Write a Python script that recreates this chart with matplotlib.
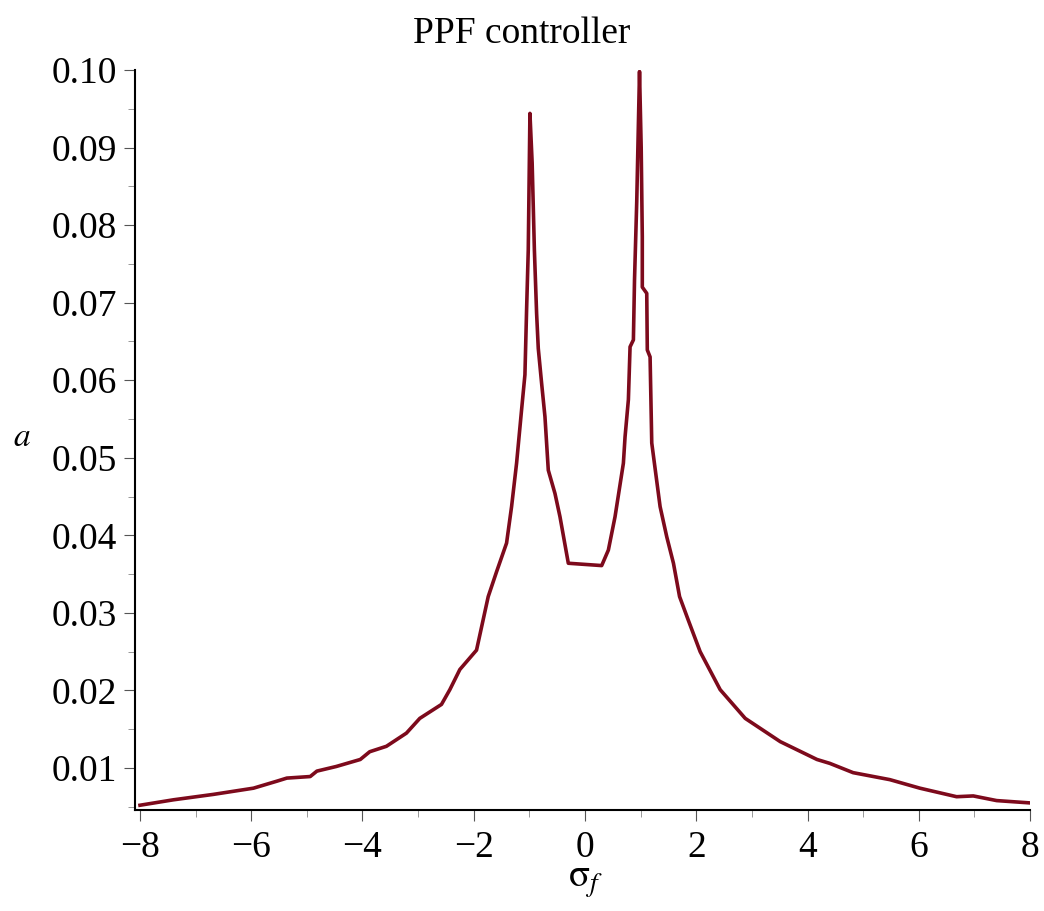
import matplotlib
matplotlib.use('Agg')
import matplotlib.pyplot as plt
from matplotlib.ticker import MultipleLocator

# values
sigma_f = [-8.0, -7.40, -6.68, -5.96, -5.54, -5.36, -4.94, -4.82, -4.47, -4.04,
           -3.87, -3.57, -3.21, -2.97, -2.58, -2.43, -2.25, -1.95, -1.74, -1.59,
           -1.41, -1.32, -1.23, -1.14, -1.08, -1.05, -1.02, -0.99, -0.95, -0.91,
           -0.87, -0.84, -0.78, -0.72, -0.66, -0.54, -0.45, -0.30, 0.30, 0.42,
           0.54, 0.69, 0.72, 0.78, 0.81, 0.87, 0.89, 0.93, 0.98, 1.01,
           1.03, 1.03, 1.11, 1.12, 1.17, 1.20, 1.35, 1.47, 1.59, 1.70,
           1.86, 2.07, 2.43, 2.88, 3.51, 4.17, 4.40, 4.82, 5.48, 6.02,
           6.68, 6.98, 7.40, 8.0]
amp = [0.0052, 0.0059, 0.0066, 0.0074, 0.0083, 0.0087, 0.0089, 0.0096, 0.0102, 0.0111,
       0.0121, 0.0128, 0.0145, 0.0164, 0.0182, 0.0201, 0.0227, 0.0252, 0.0321, 0.0353,
       0.0390, 0.0437, 0.0493, 0.0562, 0.0607, 0.0691, 0.0768, 0.0944, 0.0880, 0.0768,
       0.0686, 0.0641, 0.0596, 0.0553, 0.0484, 0.0454, 0.0424, 0.0364, 0.0361, 0.0381,
       0.0424, 0.0493, 0.0527, 0.0575, 0.0643, 0.0652, 0.0729, 0.0830, 0.0998, 0.0900,
       0.0785, 0.0720, 0.0712, 0.0639, 0.0630, 0.0519, 0.0437, 0.0398, 0.0364, 0.0321,
       0.0290, 0.0250, 0.0201, 0.0164, 0.0134, 0.0111, 0.0106, 0.0094, 0.0085, 0.0074,
       0.0063, 0.0064, 0.0058, 0.0055]

plt.rcParams['font.family'] = ['Liberation Serif', 'DejaVu Serif']
plt.rcParams['mathtext.fontset'] = 'stix'

fig = plt.figure(figsize=(10.44, 9.11), dpi=100)
ax = fig.add_axes([0.1293, 0.1109, 0.8573, 0.8123])

ax.plot(sigma_f, amp, color='#7d0a1c', lw=2.6)

ax.set_xlim(-8.09, 8.0)
ax.set_ylim(0.00459, 0.1)
ax.xaxis.set_major_locator(MultipleLocator(2))
ax.xaxis.set_minor_locator(MultipleLocator(1))
ax.yaxis.set_major_locator(MultipleLocator(0.01))
ax.yaxis.set_minor_locator(MultipleLocator(0.005))
ax.yaxis.set_major_formatter(plt.FuncFormatter(lambda v, p: f'{v:.2f}'))

for s in ['top', 'right']:
    ax.spines[s].set_visible(False)
for s in ['left', 'bottom']:
    ax.spines[s].set_linewidth(1.5)

ax.tick_params(axis='both', which='major', labelsize=27, length=8, width=0.8,
               color='#555555', direction='out')
ax.tick_params(axis='both', which='minor', length=5, width=0.6, color='#888888')
ax.tick_params(axis='y', pad=5)
ax.tick_params(axis='x', pad=7)

fig.text(0.5, 0.963, 'PPF controller', ha='center', va='center', fontsize=27)
fig.text(0.561, 0.032, r'$\mathrm{σ}_{\mathit{f}}$', ha='center', va='center', fontsize=28)
fig.text(0.021, 0.520, r'$a$', ha='center', va='center', fontsize=24)

fig.savefig('out.png', dpi=100)
